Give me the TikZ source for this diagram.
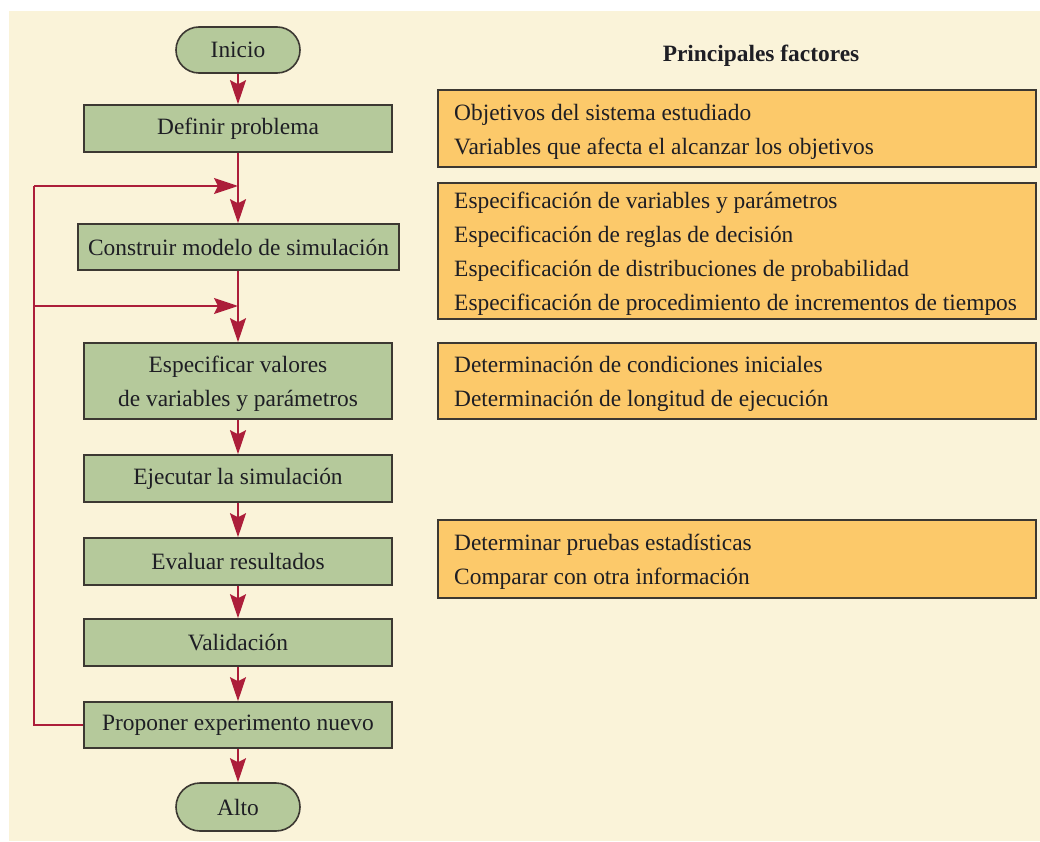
\documentclass[tikz,border=0pt]{standalone}
\usepackage{fontspec}
\setmainfont{Liberation Serif}
\usetikzlibrary{arrows.meta}
\definecolor{cream}{RGB}{250,243,217}
\definecolor{sage}{RGB}{181,201,155}
\definecolor{amber}{RGB}{252,201,106}
\definecolor{crimson}{RGB}{172,30,58}
\definecolor{edgegray}{RGB}{60,56,50}
\definecolor{ink}{RGB}{30,30,36}
\begin{document}
\begin{tikzpicture}[x=1pt,y=-1pt,
  every node/.style={font=\fontsize{23.4}{34}\selectfont, text=ink},
  proc/.style={draw=edgegray, line width=1.6pt, fill=sage, minimum width=308pt,
    minimum height=47pt, inner sep=0pt, align=center},
  term/.style={proc, minimum width=124pt, minimum height=46pt, rounded corners=23pt},
  factorbox/.style={draw=edgegray, line width=1.6pt, fill=amber, minimum width=598pt,
    inner sep=0pt, anchor=west},
  factortext/.style={inner sep=0pt, align=left, anchor=west},
  flow/.style={draw=crimson, line width=1.8pt, -{Stealth[length=24pt,width=16pt,inset=4pt]}},
  link/.style={draw=crimson, line width=1.8pt, line join=miter}]
\fill[white] (0,0) rectangle (1040,842);
\useasboundingbox (0,0) rectangle (1040,842);
\fill[cream] (9,11) rectangle (1040,841);

% flowchart
\node[term] (inicio) at (238,50) {Inicio};
\node[proc] (definir) at (238,128.5) {Definir problema};
\node[proc, minimum width=321pt, minimum height=46pt] (construir) at (238.5,247) {Construir modelo de simulación};
\node[proc, minimum height=76pt] (especificar) at (238,381) {};
\node[inner sep=0pt, align=center] (especificart) at ([yshift=-3pt]especificar.center) {Especificar valores\\de variables y parámetros};
\node[proc] (ejecutar) at (238,478.5) {Ejecutar la simulación};
\node[proc] (evaluar) at (238,561.5) {Evaluar resultados};
\node[proc] (validacion) at (238,642.5) {Validación};
\node[proc, minimum height=46pt] (proponer) at (238,725) {Proponer experimento nuevo};
\node[term, minimum height=48pt, rounded corners=24pt] (alto) at (238,807) {Alto};

\coordinate (j1) at (238,186);
\coordinate (j2) at (238,306);
\coordinate (c1) at (34,186);
\coordinate (c2) at (34,306);
\coordinate (c3) at (34,725);

\draw[flow] (inicio) -- (definir);
\draw[flow] (definir.south) -- (definir.south |- construir.north);
\draw[flow] (definir.south |- construir.south) -- (especificar.north);
\draw[flow] (especificar) -- (ejecutar);
\draw[flow] (ejecutar) -- (evaluar);
\draw[flow] (evaluar) -- (validacion);
\draw[flow] (validacion) -- (proponer);
\draw[flow] (proponer) -- (alto);
\draw[link] (proponer.west) -- (c3) -- (c1);
\draw[flow] (c1) -- (j1);
\draw[flow] (c2) -- (j2);

% factors
\node[font=\bfseries\fontsize{23.4}{28}\selectfont] (hdr) at (761,56) {Principales factores};
\node[factorbox, minimum height=77pt] (f1) at (437,128.5) {};
\node[factortext] (f1t) at ([xshift=17pt,yshift=-3pt]f1.west)
  {Objetivos del sistema estudiado\\Variables que afecta el alcanzar los objetivos};
\node[factorbox, minimum height=136pt] (f2) at (437,251) {};
\node[factortext] (f2t) at ([xshift=17pt,yshift=-3pt]f2.west)
  {Especificación de variables y parámetros\\Especificación de reglas de decisión\\Especificación de distribuciones de probabilidad\\Especificación de procedimiento de incrementos de tiempos};
\node[factorbox, minimum height=76pt] (f3) at (437,381) {};
\node[factortext] (f3t) at ([xshift=17pt,yshift=-3pt]f3.west)
  {Determinación de condiciones iniciales\\Determinación de longitud de ejecución};
\node[factorbox, minimum height=78pt] (f4) at (437,559) {};
\node[factortext] (f4t) at ([xshift=17pt,yshift=-3pt]f4.west)
  {Determinar pruebas estadísticas\\Comparar con otra información};
\end{tikzpicture}
\end{document}
